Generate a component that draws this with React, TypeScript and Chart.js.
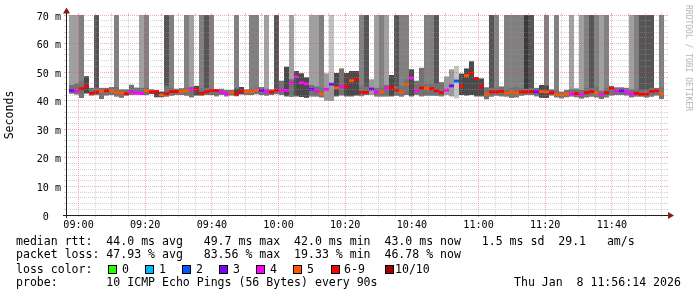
import React, { useEffect, useRef } from "react";
import { Chart, registerables } from "chart.js";

Chart.register(...registerables);

const MONO = '"DejaVu Sans Mono", "Liberation Mono", monospace';

// ---- time axis (minutes of the day) ----
const AXIS_START = 536.23; // 08:56:14
const AXIS_END = 716.23; // 11:56:14
const FIRST_SAMPLE = 537.88; // first 90 s step centre
const SAMPLE_STEP = 1.5; // minutes (90 s)
const TIME_TICKS = [540, 560, 580, 600, 620, 640, 660, 680, 700];
const VALUE_TICKS = [0, 10, 20, 30, 40, 50, 60, 70];

// ---- data: one entry per 90 s step ----
const medianRtt = [
  43.6, 43.4, 44.2, 45.1, 42.6, 43.0, 43.4, 43.5, 43.5, 42.9,
  42.7, 42.4, 43.2, 42.6, 42.5, 43.6, 43.0, 43.2, 42.0, 42.4,
  43.2, 43.2, 43.2, 43.4, 44.1, 44.0, 42.6, 43.1, 43.6, 43.6,
  43.0, 42.4, 42.9, 42.2, 43.4, 43.2, 43.2, 43.7, 43.6, 43.2,
  43.0, 43.7, 43.6, 43.6, 46.1, 48.4, 46.3, 45.9, 44.0, 43.5,
  42.4, 44.0, 45.8, 44.5, 44.9, 45.0, 47.0, 47.5, 42.9, 42.9,
  44.1, 43.0, 43.0, 44.3, 44.6, 43.7, 43.0, 45.7, 47.9, 43.5,
  44.4, 44.3, 44.2, 43.5, 42.8, 43.7, 45.2, 46.9, 44.9, 48.8,
  49.7, 47.8, 45.1, 42.4, 43.1, 43.1, 43.3, 42.6, 43.1, 42.6,
  43.1, 43.1, 43.2, 43.1, 43.2, 43.1, 42.8, 42.2, 42.0, 42.4,
  42.4, 42.5, 42.0, 42.8, 43.2, 42.8, 42.0, 42.8, 44.3, 43.4,
  43.5, 43.1, 42.4, 42.6, 42.2, 42.2, 43.3, 43.5, 42.6,
];

// pings lost out of 10
const lostPings = [
  3, 4, 7, 7, 7, 7, 5, 7, 5, 5,
  5, 7, 4, 4, 4, 5, 7, 7, 5, 7,
  7, 7, 5, 5, 4, 7, 7, 7, 7, 7,
  4, 4, 5, 7, 7, 5, 5, 5, 3, 4,
  7, 7, 4, 4, 4, 4, 4, 4, 3, 4,
  5, 4, 3, 5, 4, 7, 5, 7, 7, 7,
  3, 4, 5, 4, 7, 7, 5, 5, 4, 4,
  7, 5, 7, 7, 7, 4, 3, 2, 7, 5,
  7, 7, 7, 5, 7, 7, 7, 5, 5, 5,
  7, 7, 7, 3, 5, 5, 7, 5, 5, 5,
  4, 7, 4, 7, 7, 5, 4, 7, 7, 4,
  3, 4, 4, 7, 7, 7, 7, 7, 5,
];

const smokeLow = [
  42.5, 42.2, 41.0, 42.5, 41.8, 42.0, 40.6, 41.8, 42.0, 41.5,
  41.0, 41.8, 42.0, 42.2, 42.0, 42.0, 42.3, 41.2, 41.2, 41.5,
  41.8, 42.0, 42.0, 41.8, 41.2, 41.8, 41.8, 42.0, 42.0, 41.5,
  42.0, 41.5, 41.8, 41.6, 42.2, 42.0, 42.0, 42.3, 42.0, 41.8,
  42.0, 42.3, 42.0, 41.5, 41.4, 41.5, 41.3, 41.0, 41.5, 41.5,
  41.2, 40.0, 40.0, 41.5, 41.8, 41.5, 41.5, 41.8, 41.6, 42.0,
  42.0, 41.5, 41.5, 41.5, 41.5, 41.8, 41.5, 42.0, 41.5, 42.0,
  41.5, 41.8, 41.8, 41.8, 41.5, 42.0, 41.5, 40.8, 42.0, 41.8,
  42.0, 41.5, 41.5, 40.5, 41.5, 41.8, 41.5, 41.5, 41.0, 41.2,
  41.8, 42.0, 42.0, 41.5, 41.0, 41.0, 41.8, 41.2, 40.8, 41.2,
  41.5, 41.2, 40.8, 41.2, 41.5, 41.2, 40.6, 41.2, 41.8, 42.0,
  42.0, 41.8, 41.2, 41.5, 41.5, 41.2, 41.5, 41.8, 40.6,
];

const smokeHigh = [
  45.5, 46.0, 46.8, 48.6, 44.5, 44.6, 44.5, 44.5, 44.8, 44.8,
  44.0, 44.0, 45.6, 44.6, 44.5, 44.5, 44.0, 43.6, 43.2, 45.3,
  44.5, 44.2, 44.4, 44.5, 44.8, 45.2, 44.5, 44.5, 44.2, 44.0,
  44.2, 43.8, 43.8, 44.2, 44.8, 44.0, 44.2, 44.6, 44.8, 44.2,
  44.0, 44.4, 47.0, 51.9, 47.5, 50.4, 49.6, 48.2, 45.5, 45.0,
  44.5, 49.6, 46.0, 49.7, 51.3, 49.7, 50.4, 50.4, 45.0, 45.0,
  47.5, 44.5, 44.5, 45.5, 49.0, 45.0, 45.0, 47.5, 51.0, 47.0,
  51.5, 46.0, 46.0, 46.0, 46.5, 48.5, 51.0, 52.2, 49.5, 51.3,
  53.8, 48.2, 47.8, 44.7, 44.5, 44.5, 45.0, 44.0, 44.5, 44.8,
  44.5, 44.2, 44.5, 44.5, 45.5, 45.3, 44.0, 43.8, 43.2, 43.8,
  44.0, 44.3, 43.8, 44.5, 44.5, 44.9, 43.5, 44.5, 45.2, 44.7,
  44.7, 44.5, 44.0, 44.0, 43.8, 43.8, 44.5, 44.5, 44.6,
];

// smoke density class around the median (1 sparse .. 4 dense)
const smokeDensity = [
  3, 3, 3, 4, 3, 3, 3, 3, 3, 3,
  3, 3, 3, 3, 3, 3, 3, 4, 4, 3,
  3, 3, 3, 3, 3, 4, 3, 3, 3, 3,
  3, 3, 3, 4, 4, 3, 3, 3, 3, 3,
  3, 3, 3, 4, 3, 4, 4, 4, 3, 3,
  3, 2, 2, 4, 3, 4, 4, 4, 3, 3,
  2, 3, 3, 3, 4, 3, 3, 3, 4, 3,
  3, 3, 3, 3, 3, 2, 2, 1, 4, 4,
  4, 4, 4, 3, 3, 3, 3, 3, 3, 3,
  3, 3, 3, 3, 4, 4, 3, 3, 3, 3,
  3, 3, 3, 3, 3, 3, 3, 3, 3, 3,
  3, 3, 3, 3, 3, 3, 3, 3, 3,
];

// outlier smoke above the graph top (0 none, 1..5 light..dark)
const outlierSmoke = [
  2, 2, 3, 0, 0, 4, 0, 0, 0, 3,
  0, 0, 0, 0, 2, 3, 0, 0, 0, 4,
  3, 0, 0, 3, 2, 0, 3, 4, 3, 0,
  0, 0, 0, 3, 0, 0, 3, 3, 0, 2,
  0, 4, 0, 0, 2, 0, 0, 0, 2, 2,
  3, 0, 1, 0, 0, 0, 0, 0, 3, 4,
  0, 2, 3, 2, 0, 4, 3, 3, 0, 0,
  0, 3, 3, 4, 0, 0, 0, 0, 0, 0,
  0, 0, 0, 0, 4, 3, 0, 3, 3, 3,
  3, 5, 4, 0, 0, 3, 0, 3, 0, 0,
  2, 0, 2, 3, 4, 3, 2, 3, 0, 0,
  0, 0, 2, 3, 4, 4, 4, 0, 3,
];

const LOSS_LABELS = ["0", "1", "2", "3", "4", "5", "6-9", "10/10"];
const LOSS_SWATCH = ["#26ff00", "#00b8ff", "#0059ff", "#7e00ff", "#ff00ff", "#ff5500", "#ff0000", "#a10000"];

const STAT_RTT = "median rtt:  44.0 ms avg   49.7 ms max  42.0 ms min  43.0 ms now   1.5 ms sd  29.1   am/s";
const STAT_LOSS = "packet loss: 47.93 % avg   83.56 % max  19.33 % min  46.78 % now";
const PROBE = "probe:       10 ICMP Echo Pings (56 Bytes) every 90s";
const STAMP = "Thu Jan  8 11:56:14 2026";

// ---- styles ----
const SMOKE_COLORS: Record<number, string> = { 1: "#c4c4c4", 2: "#9a9a9a", 3: "#727272", 4: "#4a4a4a" };
const OUTLIER_COLORS: Record<number, string> = { 1: "#c0c0c0", 2: "#a0a0a0", 3: "#808080", 4: "#555555", 5: "#3a3a3a" };
function lossColor(n: number) {
  if (n <= 0) return LOSS_SWATCH[0];
  if (n <= 5) return LOSS_SWATCH[n];
  if (n < 10) return LOSS_SWATCH[6];
  return LOSS_SWATCH[7];
}
const LEGEND_BOX_X = [108, 145, 182, 219, 256, 293, 331, 385];
const LEGEND_TEXT_X = [122, 159, 196, 233, 270, 307, 344, 395];

function fmtTime(m: number) {
  const h = Math.floor(m / 60);
  const mm = Math.round(m - h * 60);
  return `${String(h).padStart(2, "0")}:${String(mm).padStart(2, "0")}`;
}

const rrdPlugin = {
  id: "rrdgrid",
  afterDatasetsDraw(chart: any) {
    const { ctx, chartArea: a, scales } = chart;
    const x = scales.x;
    const y = scales.y;
    const minorC = "rgba(150,150,150,0.42)";
    const majorC = "rgba(222,79,79,0.45)";
    ctx.save();
    ctx.lineWidth = 1;
    // horizontal grid
    for (let v = 2; v <= 70; v += 2) {
      const py = Math.floor(y.getPixelForValue(v)) + 0.5;
      const major = v % 10 === 0;
      ctx.strokeStyle = major ? majorC : minorC;
      ctx.setLineDash([1, 1]);
      ctx.beginPath();
      ctx.moveTo(a.left, py);
      ctx.lineTo(a.right, py);
      ctx.stroke();
      ctx.setLineDash([]);
      ctx.beginPath();
      ctx.moveTo(a.left - 2, py);
      ctx.lineTo(a.left, py);
      ctx.moveTo(a.right, py);
      ctx.lineTo(a.right + 2, py);
      ctx.stroke();
    }
    // vertical grid
    for (let m = 540; m <= AXIS_END; m += 5) {
      const px = Math.floor(x.getPixelForValue(m)) + 0.5;
      const major = m % 20 === 0;
      ctx.strokeStyle = major ? majorC : minorC;
      ctx.setLineDash([1, 1]);
      ctx.beginPath();
      ctx.moveTo(px, a.top);
      ctx.lineTo(px, a.bottom);
      ctx.stroke();
      ctx.setLineDash([]);
      ctx.beginPath();
      ctx.moveTo(px, a.bottom);
      ctx.lineTo(px, a.bottom + 2);
      ctx.moveTo(px, a.top - 2);
      ctx.lineTo(px, a.top);
      ctx.stroke();
    }
    // axes
    ctx.strokeStyle = "#1f1f1f";
    ctx.beginPath();
    ctx.moveTo(a.left - 3, a.bottom + 0.5);
    ctx.lineTo(a.right + 4, a.bottom + 0.5);
    ctx.moveTo(a.left + 0.5, a.bottom + 3);
    ctx.lineTo(a.left + 0.5, a.top - 4);
    ctx.stroke();
    // arrows
    ctx.fillStyle = "rgb(128,31,31)";
    ctx.beginPath();
    ctx.moveTo(a.right + 2, a.bottom - 3);
    ctx.lineTo(a.right + 8, a.bottom + 0.5);
    ctx.lineTo(a.right + 2, a.bottom + 4);
    ctx.closePath();
    ctx.fill();
    ctx.beginPath();
    ctx.moveTo(a.left - 3, a.top - 1.5);
    ctx.lineTo(a.left + 0.5, a.top - 7.5);
    ctx.lineTo(a.left + 4, a.top - 1.5);
    ctx.closePath();
    ctx.fill();
    ctx.restore();
  },
};

export default function App() {
  const ref = useRef<HTMLCanvasElement>(null);

  useEffect(() => {
    const canvas = ref.current;
    if (!canvas) return;
    const times = medianRtt.map((_, i) => FIRST_SAMPLE + i * SAMPLE_STEP);

    const outlierPts: any[] = [];
    const outlierCols: string[] = [];
    times.forEach((t, i) => {
      if (outlierSmoke[i] > 0) {
        outlierPts.push({ x: t, y: [smokeLow[i], 80] });
        outlierCols.push(OUTLIER_COLORS[outlierSmoke[i]]);
      }
    });
    const smokePts = times.map((t, i) => ({ x: t, y: [smokeLow[i], smokeHigh[i]] }));
    const smokeCols = smokeDensity.map((d) => SMOKE_COLORS[d]);
    const medPts = times.map((t, i) => ({ x: t, y: [medianRtt[i] - 0.5, medianRtt[i] + 0.5] }));
    const medCols = lostPings.map((n) => lossColor(n));

    const common = {
      grouped: false,
      barThickness: 5,
      borderWidth: 0,
      inflateAmount: 0,
    };

    const chart = new Chart(canvas, {
      type: "bar",
      data: {
        datasets: [
          { ...common, label: "median", data: medPts, backgroundColor: medCols, order: 1 } as any,
          { ...common, label: "smoke", data: smokePts, backgroundColor: smokeCols, order: 2 } as any,
          { ...common, label: "outliers", data: outlierPts, backgroundColor: outlierCols, order: 3 } as any,
        ],
      },
      options: {
        animation: false,
        responsive: false,
        maintainAspectRatio: false,
        devicePixelRatio: 1,
        events: [],
        layout: { padding: { top: 15, right: 31, left: 0, bottom: 0 } },
        plugins: {
          legend: { display: false },
          tooltip: { enabled: false },
          title: { display: false },
        },
        scales: {
          x: {
            type: "linear",
            min: AXIS_START,
            max: AXIS_END,
            offset: false,
            grid: { display: false, drawTicks: false },
            border: { display: false },
            afterBuildTicks: (s: any) => {
              s.ticks = TIME_TICKS.map((v) => ({ value: v }));
            },
            ticks: {
              autoSkip: false,
              maxRotation: 0,
              padding: 4,
              color: "#000",
              font: { family: MONO, size: 10.1 },
              callback: (v: any) => fmtTime(Number(v)),
            },
            afterFit: (s: any) => {
              s.height = 82;
            },
          },
          y: {
            type: "linear",
            min: 0,
            max: 70,
            grid: { display: false, drawTicks: false },
            border: { display: false },
            afterBuildTicks: (s: any) => {
              s.ticks = VALUE_TICKS.map((v) => ({ value: v }));
            },
            ticks: {
              padding: 5,
              labelOffset: 2,
              color: "#000",
              font: { family: MONO, size: 10.1 },
              callback: (v: any) => (Number(v) === 0 ? "0  " : `${v} m`),
            },
            title: {
              display: true,
              text: "Seconds",
              color: "#000",
              font: { family: MONO, size: 11.55 },
              padding: { top: 3.5, bottom: 0 },
            },
            afterFit: (s: any) => {
              s.width = 66;
            },
          },
        },
      } as any,
      plugins: [rrdPlugin],
    });
    return () => chart.destroy();
  }, []);

  const textStyle: React.CSSProperties = {
    position: "absolute",
    fontFamily: MONO,
    fontSize: 11.55,
    lineHeight: "14px",
    whiteSpace: "pre",
    color: "#000",
    margin: 0,
  };

  return (
    <div
      style={{
        position: "fixed",
        left: 0,
        top: 0,
        width: 697,
        height: 297,
        background: "#fff",
        overflow: "hidden",
      }}
    >
      <canvas
        ref={ref}
        width={697}
        height={297}
        style={{ position: "absolute", left: 0, top: 0, width: 697, height: 297 }}
      />
      <div
        style={{
          position: "absolute",
          left: 691.5,
          top: 4.5,
          transformOrigin: "0 0",
          transform: "rotate(90deg)",
          fontFamily: MONO,
          fontSize: 8,
          lineHeight: "8px",
          whiteSpace: "pre",
          color: "#b4b4b4",
        }}
      >
        RRDTOOL / TOBI OETIKER
      </div>
      <div style={{ ...textStyle, left: 16, top: 234 }}>{STAT_RTT}</div>
      <div style={{ ...textStyle, left: 16, top: 247 }}>{STAT_LOSS}</div>
      <div style={{ ...textStyle, left: 16, top: 262 }}>loss color:</div>
      {LOSS_LABELS.map((lab, i) => (
        <React.Fragment key={lab}>
          <div
            style={{
              position: "absolute",
              left: LEGEND_BOX_X[i],
              top: 265,
              width: 9,
              height: 9,
              boxSizing: "border-box",
              border: "1px solid #000",
              background: LOSS_SWATCH[i],
            }}
          />
          <div style={{ ...textStyle, left: LEGEND_TEXT_X[i], top: 262 }}>{lab}</div>
        </React.Fragment>
      ))}
      <div style={{ ...textStyle, left: 16, top: 275 }}>{PROBE}</div>
      <div style={{ ...textStyle, left: 514, top: 275 }}>{STAMP}</div>
    </div>
  );
}
